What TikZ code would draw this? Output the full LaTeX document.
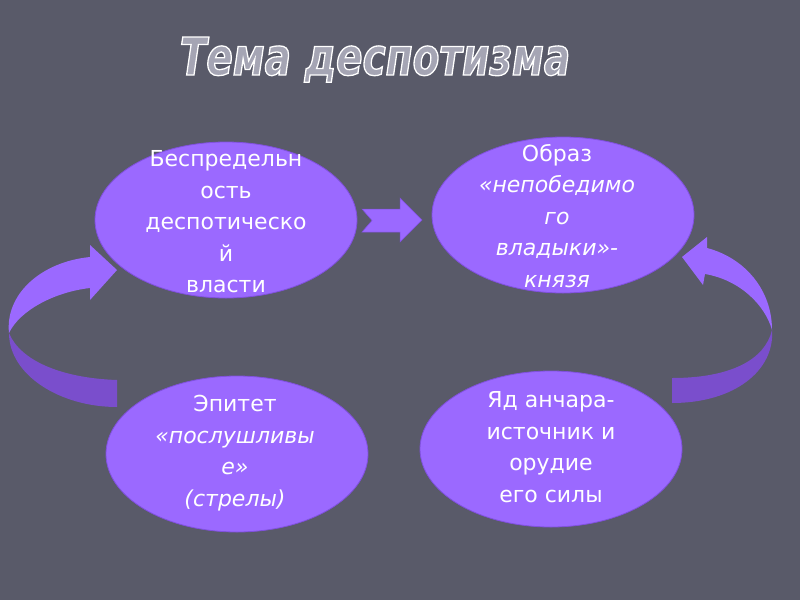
\documentclass[tikz,border=0pt]{standalone}
\usepackage{fontspec}
\setmainfont{DejaVu Sans}
\newfontfamily\headfont[FakeStretch=0.75]{DejaVu Sans}
\usetikzlibrary{shapes.geometric}

\definecolor{slate}{RGB}{89,90,105}
\definecolor{violet}{RGB}{155,105,255}
\definecolor{violetedge}{RGB}{128,80,222}
\definecolor{violetback}{RGB}{122,78,204}
\definecolor{hatch}{RGB}{165,165,180}

% outlined letters: fill plus white stroke
\newcommand\hollow[1]{\special{pdf:literal direct 2 Tr 1.3 w 1 1 1 RG}#1\special{pdf:literal direct 0 Tr}}

\tikzset{
  blob/.style={ellipse, fill=violet, draw=violetedge, line width=0.8pt,
    minimum width=262pt, minimum height=156pt, inner sep=0pt},
  words/.style={text=white, align=center, font=\fontsize{22}{31.5}\selectfont},
  ribbon/.style={fill=violet},
  ribbonback/.style={fill=violetback}
}

\begin{document}
\begin{tikzpicture}[x=1pt, y=-1pt]
    \fill[slate] (0,0) rectangle (800,600);
    \useasboundingbox (0,0) rectangle (800,600);

    \node[text=hatch, anchor=base, font=\headfont\fontsize{52}{60}\selectfont\bfseries\itshape] (title) at (375,75)
      {\hollow{Тема деспотизма}};

    % left ribbon arrow
    \fill[ribbonback] (117,380) .. controls (60,378) and (20,360) .. (9,333)
      .. controls (9,375) and (60,407) .. (117,407) -- cycle;
    \fill[ribbon] (9,333) .. controls (5,295) and (40,262) .. (90,257) -- (90,245) -- (117,270)
      -- (90,300) -- (90,288) .. controls (55,292) and (20,310) .. (9,333) -- cycle;

    % right ribbon arrow
    \fill[ribbon] (682,257) -- (707,237) -- (707,248) .. controls (745,258) and (772,290) .. (772,330)
      .. controls (765,305) and (740,280) .. (705,274) -- (703,285) -- cycle;
    \fill[ribbonback] (772,330) .. controls (775,370) and (735,403) .. (672,403)
      -- (672,378) .. controls (730,378) and (765,360) .. (772,330) -- cycle;

    % notched arrow
    \filldraw[ribbon, draw=violetedge, line width=0.5pt] (362,209) -- (400,209) -- (400,198) -- (422,220)
      -- (400,242) -- (400,232) -- (362,232) -- (372,220.5) -- cycle;

    \node[blob] (power) at (226,220) {};
    \node[blob] (ruler) at (563,215) {};
    \node[blob] (epithet) at (237,454) {};
    \node[blob] (poison) at (551,449) {};

    \node[words] at (226,222) {Беспредельн\\ость\\деспотическо\\й\\власти};
    \node[words] at (557,216) {Образ\\\itshape«непобедимо\\\itshape го\\\itshape владыки»-\\\itshape князя};
    \node[words] at (235,453) {Эпитет\\\itshape«послушливы\\\itshape е»\\\itshape(стрелы)};
    \node[words] at (551,447) {Яд анчара-\\источник и\\орудие\\его силы};
\end{tikzpicture}
\end{document}
